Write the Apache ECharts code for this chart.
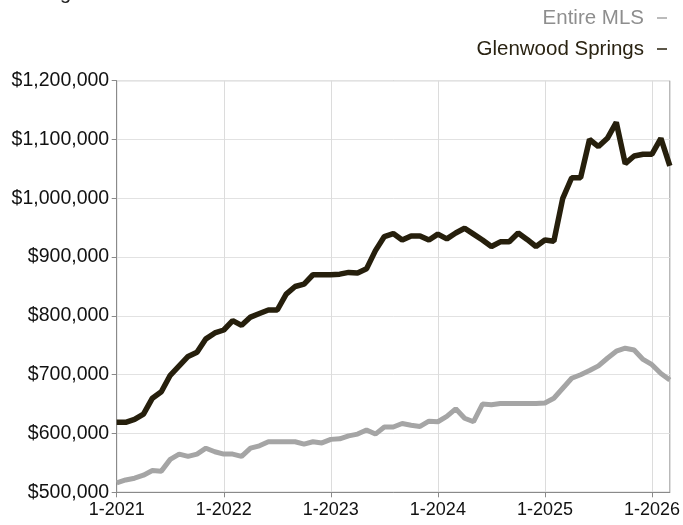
<!DOCTYPE html>
<html>
<head>
<meta charset="utf-8">
<script src="https://cdn.jsdelivr.net/npm/echarts@6/dist/echarts.min.js"></script>
<style>
html,body{margin:0;padding:0;background:#fff;}
#chart{width:683px;height:525px;}
</style>
</head>
<body>
<div id="chart"></div>
<script>
var categories = [
"1-2021","2-2021","3-2021","4-2021","5-2021","6-2021","7-2021","8-2021","9-2021","10-2021","11-2021","12-2021",
"1-2022","2-2022","3-2022","4-2022","5-2022","6-2022","7-2022","8-2022","9-2022","10-2022","11-2022","12-2022",
"1-2023","2-2023","3-2023","4-2023","5-2023","6-2023","7-2023","8-2023","9-2023","10-2023","11-2023","12-2023",
"1-2024","2-2024","3-2024","4-2024","5-2024","6-2024","7-2024","8-2024","9-2024","10-2024","11-2024","12-2024",
"1-2025","2-2025","3-2025","4-2025","5-2025","6-2025","7-2025","8-2025","9-2025","10-2025","11-2025","12-2025",
"1-2026","2-2026","3-2026"
];
var entireMLS = [
516000,521000,524000,529000,537000,536000,556000,565000,561000,565000,575000,569000,
565000,565000,561000,575000,579000,586000,586000,586000,586000,582000,586000,584000,
590000,591000,596000,599000,606000,599000,611000,611000,617000,614000,612000,621000,
620000,629000,642000,626000,620000,650000,649000,651000,651000,651000,651000,651000,
652000,660000,677000,694000,700000,707000,715000,728000,740000,745000,742000,726000,
717000,702000,691000
];
var glenwoodSprings = [
619000,619000,624000,633000,660000,671000,699000,715000,731000,738000,761000,771000,
776000,792000,784000,798000,804000,810000,810000,837000,850000,854000,870000,870000,
870000,871000,874000,873000,880000,911000,935000,940000,929000,936000,936000,929000,
939000,931000,941000,949000,939000,929000,918000,926000,926000,941000,930000,918000,
929000,927000,1000000,1035000,1035000,1100000,1088000,1102000,1129000,1059000,1072000,1075000,
1075000,1102000,1055000
];
var seriesNames = ["Entire MLS", "Glenwood Springs"];
var titleText = "Rolling 12-Month Calculation";

var FONT = "'Liberation Sans', Arial, Helvetica, sans-serif";
var chart = echarts.init(document.getElementById('chart'), null, {renderer:'canvas'});
function isYearStart(i){ return i % 12 === 0; }
function money(v){ return '$' + v.toString().replace(/\B(?=(\d{3})+(?!\d))/g, ','); }

chart.setOption({
  animation: false,
  backgroundColor: '#fff',
  graphic: [{
    type: 'text', left: 10, top: -17,
    style: { text: titleText, fill: '#222', font: '20px ' + FONT }
  }],
  legend: {
    orient: 'vertical',
    right: 11,
    top: 1,
    align: 'right',
    itemGap: 7,
    itemWidth: 10,
    itemHeight: 1.5,
    icon: 'rect',
    textStyle: { fontFamily: FONT, fontSize: 20.5, lineHeight: 24, padding: [0, 8, 0, 0] },
    data: [
      { name: seriesNames[0], textStyle: { color: '#8e8e8e' } },
      { name: seriesNames[1], textStyle: { color: '#2a2312' } }
    ]
  },
  grid: {
    left: 116.7, right: 12.3, top: 80.7, bottom: 32.7,
    show: true, borderColor: '#9a9a9a', borderWidth: 1
  },
  xAxis: {
    type: 'category',
    data: categories,
    boundaryGap: false,
    axisLine: { lineStyle: { color: '#8a8a8a', width: 1 } },
    axisTick: { interval: function(i){ return isYearStart(i); }, length: 5, lineStyle: { color: '#8a8a8a' } },
    axisLabel: { interval: function(i){ return isYearStart(i); }, color: '#111', fontFamily: FONT, fontSize: 18, margin: 9 },
    splitLine: { show: true, interval: function(i){ return isYearStart(i); }, lineStyle: { color: '#dcdcdc', width: 1 } }
  },
  yAxis: {
    type: 'value',
    min: 500000, max: 1200000, interval: 100000,
    axisLine: { show: true, lineStyle: { color: '#8a8a8a', width: 1 } },
    axisTick: { show: true, length: 5, lineStyle: { color: '#8a8a8a' } },
    axisLabel: { formatter: money, color: '#111', fontFamily: FONT, fontSize: 19.5, margin: 7.5 },
    splitLine: { lineStyle: { color: '#e2e2e2', width: 1 } }
  },
  series: [
    { name: seriesNames[0], type: 'line', data: entireMLS, showSymbol: false, symbol: 'none',
      itemStyle: { color: '#a5a5a5' }, lineStyle: { color: '#a5a5a5', width: 5 } },
    { name: seriesNames[1], type: 'line', data: glenwoodSprings, showSymbol: false, symbol: 'none',
      itemStyle: { color: '#261f0c' }, lineStyle: { color: '#261f0c', width: 5.5 } }
  ]
});
</script>
</body>
</html>
